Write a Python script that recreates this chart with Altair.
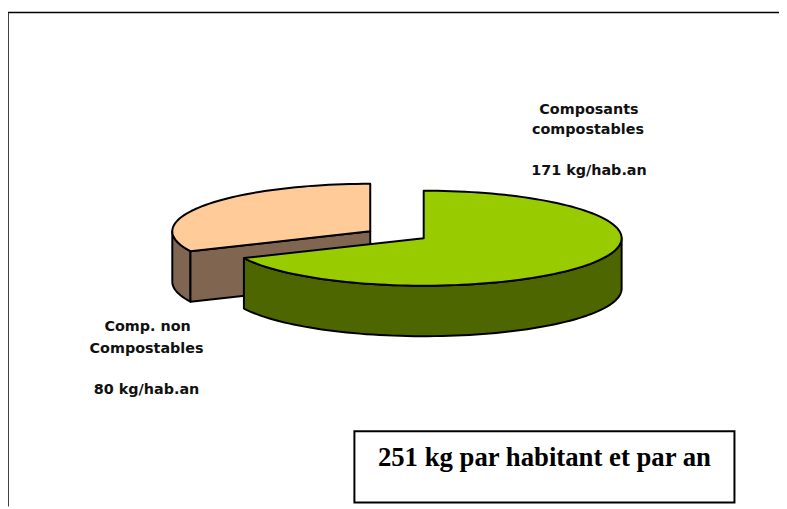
import math
import altair as alt
import pandas as pd

# Values
slices = ["Composants compostables", "Comp. non Compostables"]
values = [171, 80]
top_colors = ["#99CC00", "#FFCC99"]
side_colors = ["#4D6600", "#806650"]
label_lines = ["Composants", "compostables", "171 kg/hab.an",
               "Comp. non", "Compostables", "80 kg/hab.an"]
label_x = [595, 594, 595, 149, 148, 148]
label_y = [108, 129, 170, 328, 350, 391]
box_text = ["251 kg par habitant et par an"]

# Pie geometry in page pixels (the x and y scales map them to the canvas)
CENTERS = [(428, 238), (374, 231)]
RX, RY, DEPTH = 200, 48, 51
W, H = 779, 501
X = alt.X("x:Q", scale=alt.Scale(domain=[8, 787]), axis=None)
Y = alt.Y("y:Q", scale=alt.Scale(domain=[509, 8]), axis=None)

boundary = values[0] / sum(values) * 360


def pt(c, deg, drop=0):
    r = math.radians(deg)
    return (c[0] + RX * math.sin(r), c[1] - RY * math.cos(r) + drop)


def arc(c, a, b, drop=0):
    n = max(2, int(abs(b - a) / 2))
    return [pt(c, a + (b - a) * i / n, drop) for i in range(n + 1)]


def poly(points, fill, width=2):
    df = pd.DataFrame(points, columns=["x", "y"])
    df["i"] = range(len(df))
    return alt.Chart(df).mark_line(
        fill=fill, stroke="black", strokeWidth=width,
        interpolate="linear-closed", strokeJoin="round"
    ).encode(x=X, y=Y, order="i:Q")


green, peach = CENTERS
layers = []

# Frame
frame_h = pd.DataFrame({"x": [8], "x2": [787], "y": [10]})
frame_v = pd.DataFrame({"x": [8], "y": [10], "y2": [509]})
layers.append(alt.Chart(frame_h).mark_rule(color="black", strokeWidth=1.5).encode(x=X, x2="x2:Q", y=Y))
layers.append(alt.Chart(frame_v).mark_rule(color="black", strokeWidth=1.5).encode(x=X, y=Y, y2="y2:Q"))

# Small slice: outer wall, cut face, top
layers.append(poly(arc(peach, boundary, 270) + arc(peach, 270, boundary, DEPTH), side_colors[1]))
cut = [peach, pt(peach, boundary), pt(peach, boundary, DEPTH), (peach[0], peach[1] + DEPTH)]
layers.append(poly(cut, side_colors[1]))
layers.append(poly([peach] + arc(peach, boundary, 360), top_colors[1]))

# Large slice: wall then top
layers.append(poly(arc(green, 90, boundary) + arc(green, boundary, 90, DEPTH), side_colors[0]))
layers.append(poly([green] + arc(green, 0, boundary), top_colors[0]))

# Labels
labels = pd.DataFrame({"x": label_x, "y": label_y, "t": label_lines})
layers.append(alt.Chart(labels).mark_text(
    font="DejaVu Sans", fontWeight="bold", fontSize=14.5, color="#111111", align="center", baseline="middle"
).encode(x=X, y=Y, text="t:N"))

# Total box
box = pd.DataFrame({"x": [358], "x2": [742], "y": [433], "y2": [505]})
layers.append(alt.Chart(box).mark_rect(fill="white", stroke="black", strokeWidth=2).encode(
    x=X, x2="x2:Q", y=Y, y2="y2:Q"))
box_label = pd.DataFrame({"x": [550], "y": [460], "t": box_text})
layers.append(alt.Chart(box_label).mark_text(
    font="Liberation Serif", fontWeight="bold", fontSize=27, color="black", align="center", baseline="middle"
).encode(x=X, y=Y, text="t:N"))

chart = alt.layer(*layers).properties(
    width=W, height=H, padding=0, autosize=alt.AutoSizeParams(type="none"), background="white"
).configure_view(stroke=None)

chart.save("out.html", embed_options={"renderer": "svg", "actions": False})
